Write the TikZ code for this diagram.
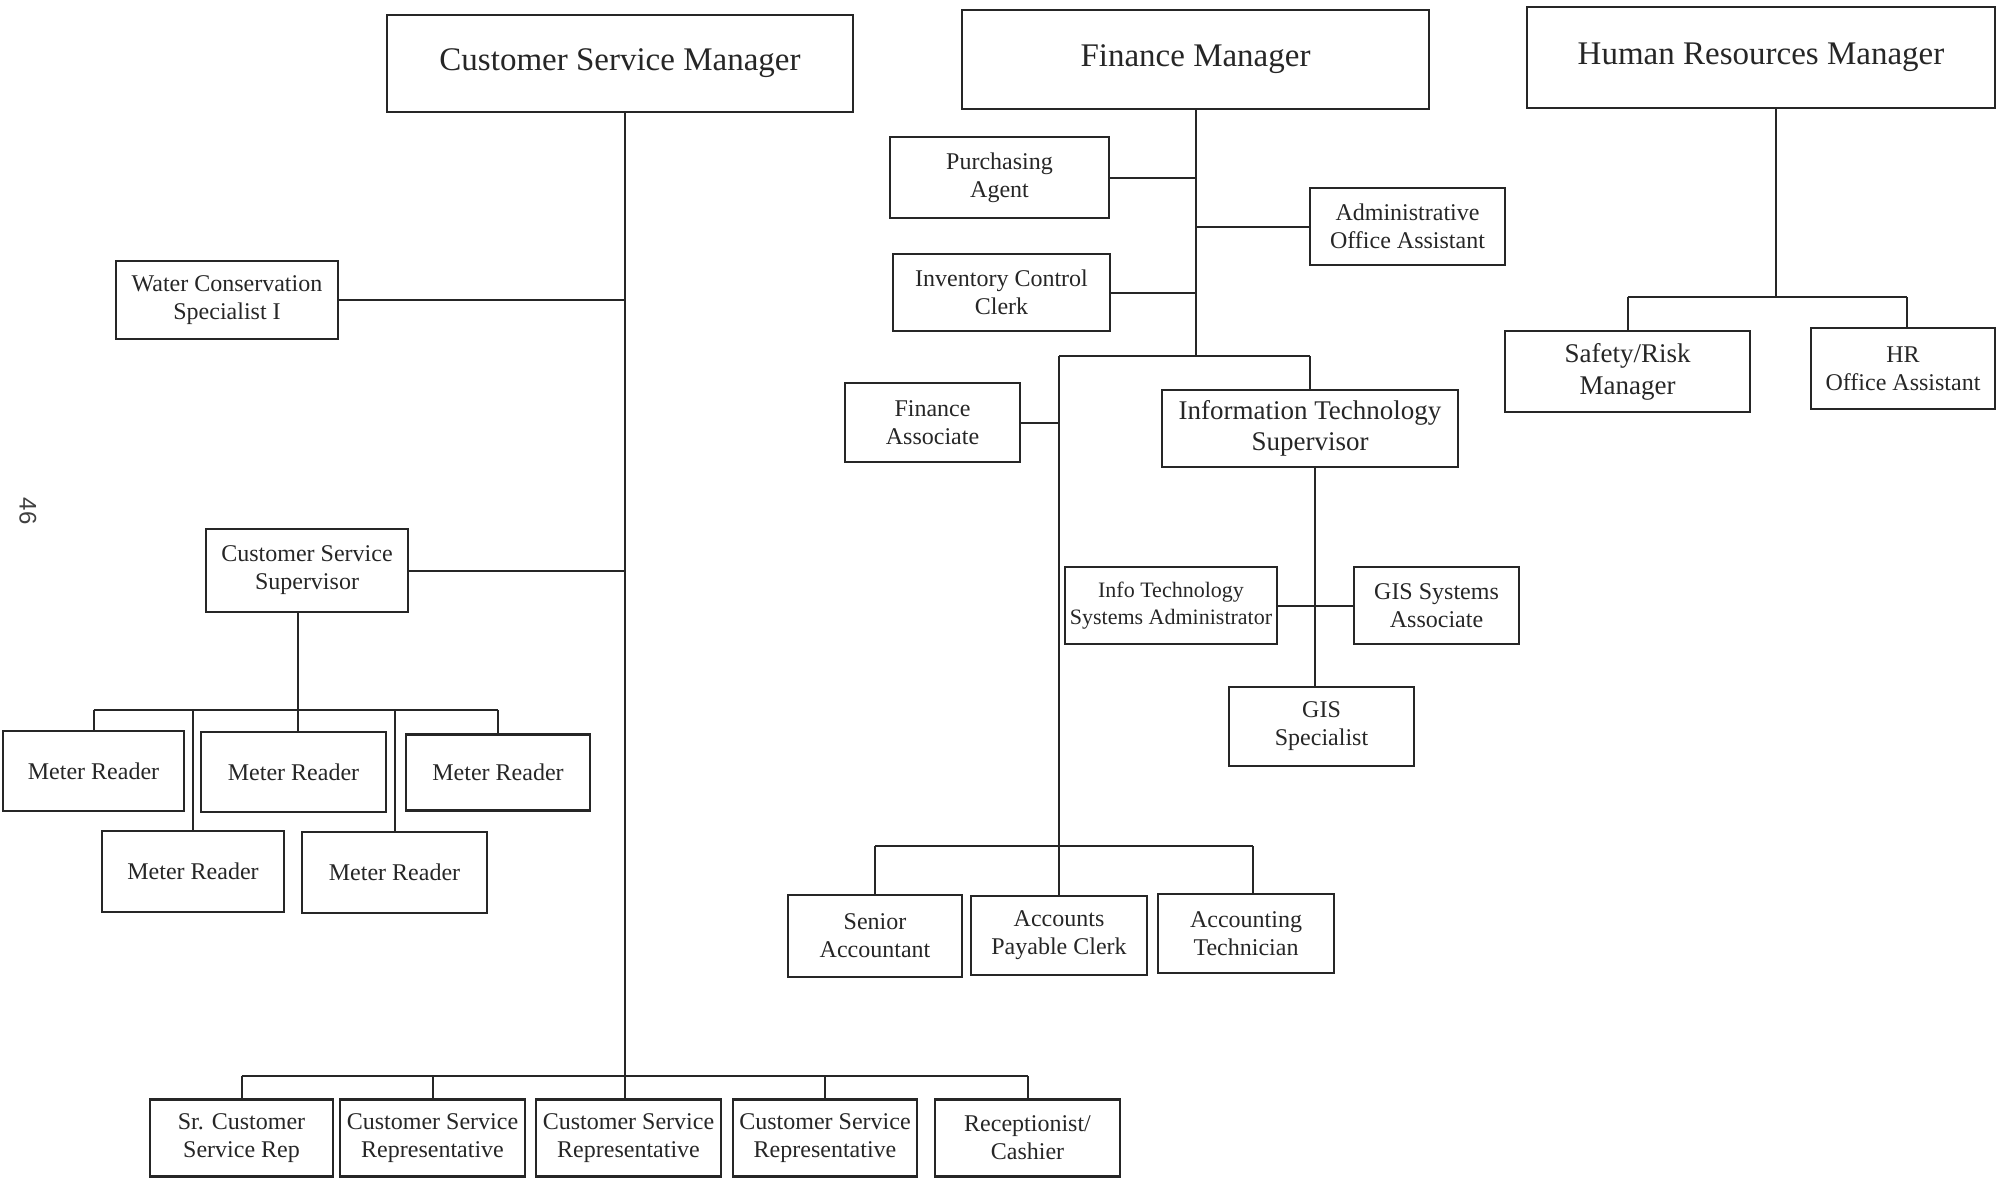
\documentclass[tikz,border=0pt]{standalone}
\usepackage{fontspec}
\setmainfont{Liberation Serif}
\newfontfamily\pgfont{Liberation Sans}
\begin{document}
\begin{tikzpicture}[x=1pt,y=-1pt,
  box/.style={draw=black!85, line width=2.8pt, rectangle, inner sep=0pt, align=center,
    font=\fontsize{24}{28}\selectfont, text=black!85},
  bigbox/.style={box, font=\fontsize{33}{38}\selectfont},
  midbox/.style={box, font=\fontsize{27}{31}\selectfont},
  link/.style={draw=black!85, line width=2pt},
  bus/.style={draw=black!85, line width=2.6pt}]
\useasboundingbox (0,0) rectangle (2007,1179);
% managers
\node[bigbox, minimum width=466pt, minimum height=97pt] (CSM) at (620,63.5) {Customer Service Manager};
\node[bigbox, minimum width=467pt, minimum height=99pt] (FM) at (1195.5,59.5) {Finance Manager};
\node[bigbox, minimum width=468pt, minimum height=101pt] (HRM) at (1761,57.5) {Human Resources Manager};
% customer service
\node[box, minimum width=222pt, minimum height=78pt] (WC) at (227,300) {Water Conservation\\Specialist I};
\node[box, minimum width=202pt, minimum height=83pt] (CSS) at (307,570.5) {Customer Service\\Supervisor};
\node[box, minimum width=181pt, minimum height=80pt] (MR1) at (93.5,771) {Meter Reader};
\node[box, minimum width=185pt, minimum height=80pt] (MR2) at (293.5,772) {Meter Reader};
\node[box, minimum width=184pt, minimum height=76pt] (MR3) at (498,772.5) {Meter Reader};
\node[box, minimum width=182pt, minimum height=81pt] (MR4) at (193,871.5) {Meter Reader};
\node[box, minimum width=185pt, minimum height=81pt] (MR5) at (394.5,872.5) {Meter Reader};
\node[box, minimum width=183pt, minimum height=77pt] (SR) at (241.5,1138) {Sr. Customer\\Service Rep};
\node[box, minimum width=185pt, minimum height=77pt] (CSR1) at (432.5,1138) {Customer Service\\Representative};
\node[box, minimum width=185pt, minimum height=77pt] (CSR2) at (628.5,1138) {Customer Service\\Representative};
\node[box, minimum width=184pt, minimum height=77pt] (CSR3) at (825,1138) {Customer Service\\Representative};
\node[box, minimum width=185pt, minimum height=77pt] (REC) at (1027.5,1138) {Receptionist/\\Cashier};
% finance
\node[box, minimum width=219pt, minimum height=81pt] (PA) at (999.5,177.5) {Purchasing\\Agent};
\node[box, minimum width=217pt, minimum height=77pt] (ICC) at (1001.5,292.5) {Inventory Control\\Clerk};
\node[box, minimum width=195pt, minimum height=77pt] (AOA) at (1407.5,226.5) {Administrative\\Office Assistant};
\node[box, minimum width=175pt, minimum height=79pt] (FA) at (932.5,422.5) {Finance\\Associate};
\node[midbox, minimum width=296pt, minimum height=77pt] (ITS) at (1310,428.5) {Information Technology\\Supervisor};
\node[box, font=\fontsize{22}{27}\selectfont, minimum width=212pt, minimum height=77pt] (ITSA) at (1171,605.5) {Info Technology\\Systems Administrator};
\node[box, minimum width=165pt, minimum height=77pt] (GSA) at (1436.5,605.5) {GIS Systems\\Associate};
\node[box, minimum width=185pt, minimum height=79pt] (GS) at (1321.5,726.5) {GIS\\Specialist};
\node[box, minimum width=174pt, minimum height=82pt] (SA) at (875,936) {Senior\\Accountant};
\node[box, minimum width=176pt, minimum height=79pt] (APC) at (1059,935.5) {Accounts\\Payable Clerk};
\node[box, minimum width=176pt, minimum height=79pt] (AT) at (1246,933.5) {Accounting\\Technician};
% HR
\node[midbox, font=\fontsize{27}{32}\selectfont, minimum width=245pt, minimum height=81pt] (SRM) at (1627.5,371.5) {Safety/Risk\\Manager};
\node[box, minimum width=184pt, minimum height=81pt] (HROA) at (1903,368.5) {HR\\Office Assistant};
% page number
\node[font=\pgfont\fontsize{24}{24}\selectfont, text=black!75, rotate=-90] (PG) at (28,511) {46};
% coordinates
\coordinate (t) at (625,0);
\coordinate (cb) at (0,1076);
\coordinate (s) at (298,0);
\coordinate (mb) at (0,710);
\coordinate (fb) at (0,356);
\coordinate (ab) at (0,846);
\coordinate (itx) at (1315,0);
\coordinate (hx) at (1776,0);
\coordinate (hb) at (0,297);
% customer service connectors
\draw[link] (CSM.south -| t) -- (CSR2.north -| t);
\draw[link] (WC.east) -- (WC.east -| t);
\draw[link] (CSS.east) -- (CSS.east -| t);
\draw[bus] (SR.north |- cb) -- (REC.north |- cb);
\draw[link] (SR.north) -- (SR.north |- cb);
\draw[link] (CSR1.north) -- (CSR1.north |- cb);
\draw[link] (CSR3.north) -- (CSR3.north |- cb);
\draw[link] (REC.north) -- (REC.north |- cb);
\draw[link] (CSS.south -| s) -- (MR2.north -| s);
\draw[bus] (MR1.north |- mb) -- (MR3.north |- mb);
\draw[link] (MR1.north) -- (MR1.north |- mb);
\draw[link] (MR3.north) -- (MR3.north |- mb);
\draw[link] (MR4.north) -- (MR4.north |- mb);
\draw[link] (MR5.north) -- (MR5.north |- mb);
% finance connectors
\draw[link] (FM.south) -- (FM.south |- fb);
\draw[link] (PA.east) -- (PA.east -| FM.south);
\draw[link] (ICC.east) -- (ICC.east -| FM.south);
\draw[link] (AOA.west) -- (AOA.west -| FM.south);
\draw[bus] (APC.north |- fb) -- (ITS.north |- fb);
\draw[link] (ITS.north) -- (ITS.north |- fb);
\draw[link] (APC.north |- fb) -- (APC.north);
\draw[link] (FA.east) -- (FA.east -| APC.north);
\draw[bus] (SA.north |- ab) -- ([xshift=7pt]AT.north |- ab);
\draw[link] (SA.north) -- (SA.north |- ab);
\draw[link] ([xshift=7pt]AT.north) -- ([xshift=7pt]AT.north |- ab);
\draw[link] (ITS.south -| itx) -- (GS.north -| itx);
\draw[link] (ITSA.east) -- (GSA.west);
% HR connectors
\draw[link] (HRM.south -| hx) -- (hx |- hb);
\draw[bus] (SRM.north |- hb) -- ([xshift=4pt]HROA.north |- hb);
\draw[link] (SRM.north) -- (SRM.north |- hb);
\draw[link] ([xshift=4pt]HROA.north) -- ([xshift=4pt]HROA.north |- hb);
\end{tikzpicture}
\end{document}
